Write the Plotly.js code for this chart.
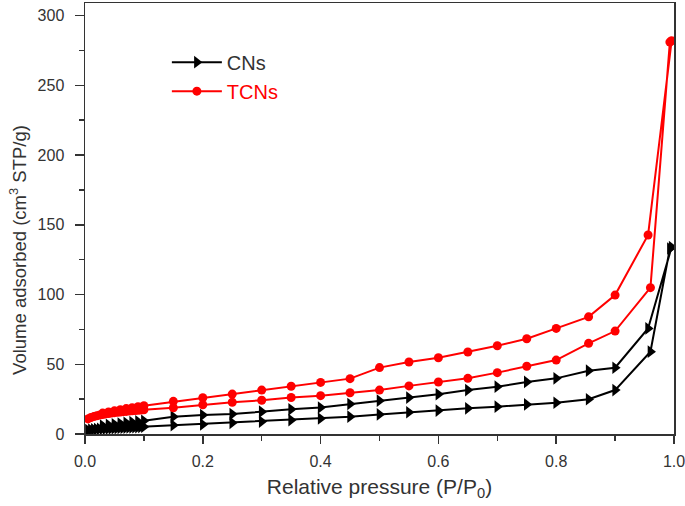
<!DOCTYPE html>
<html>
<head>
<meta charset="utf-8">
<script src="https://cdn.plot.ly/plotly-3.0.1.min.js"></script>
<style>html,body{margin:0;padding:0;background:#fff;}#chart{width:685px;height:506px;}</style>
</head>
<body>
<div id="chart"></div>
<script>
// Relative pressure (P/P0) for the adsorption branch
const adsP = [0.005,0.01,0.015,0.02,0.025,0.03,0.035,0.04,0.045,0.05,0.055,0.06,0.065,0.07,0.075,0.08,0.085,0.09,0.095,0.1,
  0.15,0.2,0.25,0.3,0.35,0.4,0.45,0.5,0.55,0.6,0.65,0.7,0.75,0.8,0.855,0.9,0.96,0.993];
// Relative pressure for the desorption branch
const desP = [0.996,0.956,0.9,0.855,0.8,0.75,0.7,0.65,0.6,0.55,0.5,0.45,0.4,0.35,0.3,0.25,0.2,0.15,
  0.1,0.09,0.08,0.07,0.06,0.05,0.04,0.03];

const cnsAds = [2.8,3.1,3.3,3.5,3.7,3.8,3.9,4.0,4.1,4.2,4.3,4.4,4.5,4.6,4.7,4.8,4.9,5.0,5.1,5.2,
  6.3,6.9,8.0,8.9,10.0,11.1,12.4,14.0,15.6,16.8,18.4,19.6,21.2,22.4,24.9,31.5,59.0,133];
const cnsDes = [134,75.7,47.5,45.4,39.9,37.3,33.9,31.5,28.5,26.1,23.9,21.5,19.0,17.7,16.0,14.3,13.6,12.4,
  9.5,9.0,8.5,8.0,7.5,7.0,6.5,6.0];

const tcnsAds = [10.8,11.8,12.5,13.1,13.6,14.0,14.4,14.7,15.0,15.3,15.6,15.8,16.0,16.2,16.4,16.6,16.8,17.0,17.2,17.4,
  18.8,21.0,22.8,24.2,26.2,27.5,29.6,31.5,34.5,37.3,39.9,44.0,48.6,53.0,65.0,73.8,104.9,281];
const tcnsDes = [282,142.7,99.6,84.0,75.7,68.3,63.3,58.8,54.7,51.6,47.6,39.7,37.0,34.2,31.5,28.6,26.0,23.4,
  20.3,19.6,18.9,18.2,17.4,16.6,15.8,15.0];

const seriesNames = ['CNs', 'TCNs'];
const xTickVals = [0, 0.2, 0.4, 0.6, 0.8, 1.0];
const xTickText = ['0.0', '0.2', '0.4', '0.6', '0.8', '1.0'];
const xTitle = 'Relative pressure (P/P<sub>0</sub>)';
const yTitle = 'Volume adsorbed (cm<sup>3</sup> STP/g)';

const traces = [
  {
    x: adsP.concat(desP), y: cnsAds.concat(cnsDes),
    name: seriesNames[0], type: 'scatter', mode: 'lines+markers',
    line: {color: '#000000', width: 2},
    marker: {symbol: 'triangle-right', size: 11, color: '#000000'}
  },
  {
    x: adsP.concat(desP), y: tcnsAds.concat(tcnsDes),
    name: '<span style="color:#ff0000">' + seriesNames[1] + '</span>', type: 'scatter', mode: 'lines+markers',
    line: {color: '#ff0000', width: 2},
    marker: {symbol: 'circle', size: 9, color: '#ff0000'}
  }
];

const fontFam = 'Liberation Sans, Arial, sans-serif';
const layout = {
  width: 685, height: 506,
  margin: {l: 85, r: 11, t: 3, b: 72},
  paper_bgcolor: '#ffffff', plot_bgcolor: '#ffffff',
  showlegend: true,
  legend: {
    x: 0.139, y: 0.908, xanchor: 'left', yanchor: 'top',
    bgcolor: 'rgba(0,0,0,0)', itemwidth: 50,
    font: {family: fontFam, size: 20, color: '#333333'}
  },
  xaxis: {
    range: [0, 1], tickmode: 'array', tickvals: xTickVals, ticktext: xTickText,
    showgrid: false, zeroline: false, ticklabeloverflow: 'allow',
    showline: true, linecolor: '#333333', linewidth: 1.5, mirror: true,
    ticks: 'outside', ticklen: 8, tickwidth: 1.5, tickcolor: '#333333', ticklabelstandoff: 4,
    minor: {dtick: 0.1, tick0: 0, ticks: 'outside', ticklen: 5, tickwidth: 1.5, tickcolor: '#333333', showgrid: false},
    tickfont: {family: fontFam, size: 16, color: '#333333'},
    title: {text: xTitle, standoff: 10, font: {family: fontFam, size: 21, color: '#333333'}}
  },
  yaxis: {
    range: [0, 309], dtick: 50, tick0: 0,
    showgrid: false, zeroline: false,
    showline: true, linecolor: '#333333', linewidth: 1.5, mirror: true,
    ticks: 'outside', ticklen: 9, tickwidth: 1.5, tickcolor: '#333333', ticklabelstandoff: 7,
    minor: {dtick: 25, ticks: 'outside', ticklen: 5, tickwidth: 1.5, tickcolor: '#333333', showgrid: false},
    tickfont: {family: fontFam, size: 16, color: '#333333'}
  },
  annotations: [{
    text: yTitle, xref: 'paper', yref: 'paper', x: -0.1138, y: 0.427,
    xanchor: 'center', yanchor: 'middle', textangle: -90, showarrow: false,
    font: {family: fontFam, size: 18.5, color: '#333333'}
  }]
};

Plotly.newPlot('chart', traces, layout, {staticPlot: true, displayModeBar: false});
</script>
</body>
</html>
